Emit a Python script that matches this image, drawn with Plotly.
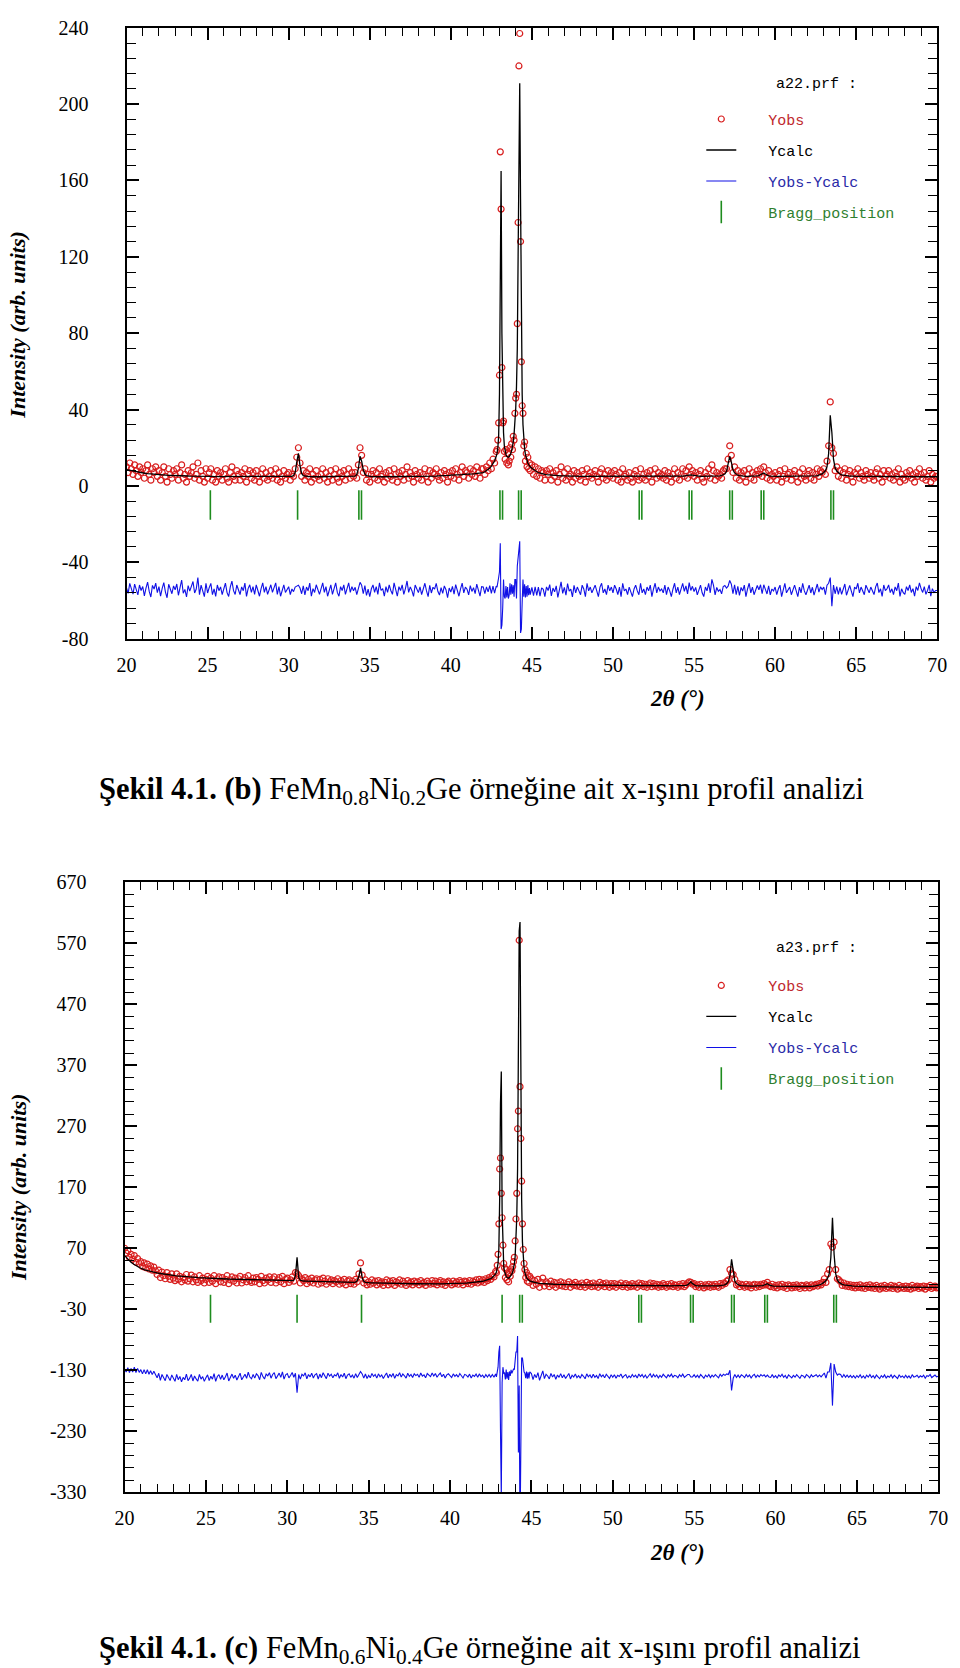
import numpy as np
import plotly.graph_objects as go

# ---------------- scan grid (2theta, degrees) ----------------
two_theta = np.round(np.concatenate([
    np.linspace(20.0, 42.8, 229),    # 0.1 deg steps
    np.linspace(42.85, 44.90, 42),   # 0.05 deg steps around main peaks
    np.linspace(45.0, 70.0, 251),    # 0.1 deg steps
]), 2)

# ---------------- (b) a22.prf : FeMn0.8Ni0.2Ge ----------------
yobs_a22 = [
    10, 7, 12, 9, 6, 11, 8, 5, 10, 7,        # 20
    9, 4, 8, 11, 6, 3, 9, 7, 10, 5,          # 21
    8, 3, 7, 10, 5, 2, 9, 6, 4, 8,           # 22
    6, 9, 3, 7, 11, 4, 6, 2, 8, 5,           # 23
    7, 10, 4, 6, 12, 3, 8, 5, 2, 9,          # 24
    4, 7, 9, 3, 6, 2, 8, 5, 7, 3,            # 25
    6, 9, 4, 2, 7, 10, 5, 3, 8, 6,           # 26
    3, 7, 5, 9, 2, 6, 8, 4, 7, 3,            # 27
    8, 5, 2, 6, 9, 4, 7, 3, 5, 8,            # 28
    4, 6, 9, 3, 7, 2, 5, 8, 4, 6,            # 29
    7, 3, 6, 5, 9, 15, 20, 12, 5, 8,         # 30
    3, 7, 5, 9, 2, 6, 4, 8, 5, 3,            # 31
    6, 9, 4, 7, 2, 5, 8, 3, 6, 9,            # 32
    4, 2, 7, 5, 8, 3, 6, 9, 4, 7,            # 33
    5, 7, 4, 11, 20, 16, 7, 9, 3, 6,         # 34
    2, 6, 8, 4, 7, 3, 9, 5, 6, 2,            # 35
    7, 4, 8, 5, 3, 9, 6, 2, 7, 5,            # 36
    8, 3, 6, 10, 4, 7, 5, 2, 8, 6,           # 37
    4, 7, 3, 6, 9, 5, 2, 8, 4, 7,            # 38
    6, 9, 5, 3, 7, 4, 8, 6, 2, 7,            # 39
    5, 8, 4, 9, 6, 3, 7, 10, 5, 8,           # 40
    7, 4, 9, 6, 8, 5, 10, 7, 4, 9,           # 41
    9, 6, 10, 8, 12, 9, 14, 12, 18,          # 42.0-42.8
    19, 24, 33, 58, 175, 145, 62, 33, 34, 18,      # 42.85-43.30
    14, 19, 12, 17, 11, 13, 20, 15, 22, 19,        # 43.35-43.80
    26, 24, 38, 46, 48, 85, 138, 220, 237, 128,    # 43.85-44.30
    65, 42, 38, 21, 23, 13, 17, 10, 15, 9,         # 44.35-44.80
    12, 8,                                         # 44.85-44.90
    11, 6, 10, 5, 9, 4, 8, 7, 3, 8,          # 45
    6, 9, 3, 7, 5, 8, 2, 6, 10, 4,           # 46
    7, 3, 9, 5, 6, 2, 8, 4, 7, 5,            # 47
    3, 8, 6, 2, 9, 5, 7, 4, 6, 8,            # 48
    5, 2, 7, 9, 4, 6, 3, 8, 5, 7,            # 49
    4, 8, 6, 3, 7, 2, 9, 5, 6, 3,            # 50
    7, 4, 2, 6, 8, 5, 3, 9, 4, 6,            # 51
    3, 7, 5, 8, 2, 6, 9, 4, 7, 5,            # 52
    6, 4, 8, 3, 7, 5, 2, 6, 9, 4,            # 53
    7, 3, 6, 9, 5, 8, 4, 10, 6, 8,           # 54
    5, 7, 3, 6, 8, 4, 2, 7, 5, 9,            # 55
    4, 11, 8, 3, 7, 5, 6, 4, 8, 9,           # 56
    9, 14, 21, 16, 7, 10, 4, 8, 3, 7,        # 57
    5, 8, 2, 6, 9, 4, 7, 3, 6, 8,            # 58
    6, 9, 5, 10, 7, 4, 8, 3, 6, 5,           # 59
    7, 3, 6, 8, 2, 5, 9, 4, 6, 7,            # 60
    3, 6, 8, 5, 2, 7, 4, 9, 5, 3,            # 61
    6, 8, 4, 7, 3, 6, 9, 5, 8, 7,            # 62
    9, 6, 13, 21, 44, 20, 17, 8, 10, 5,      # 63
    8, 4, 7, 9, 3, 6, 8, 5, 2, 7,            # 64
    6, 9, 4, 7, 5, 3, 8, 6, 4, 7,            # 65
    5, 3, 7, 9, 4, 6, 2, 8, 5, 6,            # 66
    8, 4, 6, 3, 7, 5, 9, 2, 6, 4,            # 67
    3, 7, 5, 8, 4, 6, 2, 7, 5, 9,            # 68
    6, 4, 7, 3, 5, 8, 2, 6, 4, 5,            # 69
    5,                                       # 70
]
ycalc_a22 = [
    8.5, 8.3, 8.1, 7.9, 7.7, 7.5, 7.3, 7.1, 6.9, 6.8,       # 20
    6.7, 6.6, 6.5, 6.4, 6.3, 6.2, 6.1, 6.0, 5.9, 5.9,       # 21
    5.8, 5.8, 5.7, 5.7, 5.6, 5.6, 5.5, 5.5, 5.5, 5.4,       # 22
    5.4, 5.4, 5.3, 5.3, 5.3, 5.2, 5.2, 5.2, 5.2, 5.1,       # 23
    5.1, 5.1, 5.1, 5.0, 5.0, 5.0, 5.0, 5.0, 5.0, 5.0,       # 24
    5.1, 5.3, 5.1, 5.0, 4.9, 4.9, 4.9, 4.9, 4.9, 4.9,       # 25
    4.9, 4.9, 4.9, 4.9, 4.9, 4.9, 4.9, 4.9, 4.9, 4.9,       # 26
    4.9, 4.9, 4.9, 4.9, 4.9, 4.8, 4.8, 4.8, 4.8, 4.8,       # 27
    4.8, 4.8, 4.8, 4.8, 4.8, 4.8, 4.8, 4.8, 4.8, 4.8,       # 28
    4.8, 4.8, 4.8, 4.8, 4.8, 4.8, 4.8, 4.8, 4.8, 4.8,       # 29
    4.8, 4.9, 5.0, 5.4, 7.0, 12.5, 17.0, 10.5, 6.5, 5.4,    # 30
    5.1, 5.0, 4.9, 4.9, 4.8, 4.8, 4.8, 4.8, 4.8, 4.8,       # 31
    4.8, 4.8, 4.8, 4.8, 4.8, 4.8, 4.8, 4.8, 4.8, 4.8,       # 32
    4.8, 4.8, 4.8, 4.8, 4.8, 4.8, 4.8, 4.8, 4.8, 4.8,       # 33
    4.9, 5.1, 6.0, 9.0, 15.5, 13.0, 8.5, 6.2, 5.4, 5.1,     # 34
    5.0, 4.9, 4.9, 4.8, 4.8, 4.8, 4.8, 4.8, 4.8, 4.8,       # 35
    4.8, 4.8, 4.8, 4.8, 4.8, 4.8, 4.8, 4.8, 4.8, 4.8,       # 36
    4.8, 4.8, 4.8, 4.8, 4.8, 4.9, 4.9, 4.9, 4.9, 4.9,       # 37
    4.9, 4.9, 5.0, 5.0, 5.0, 5.0, 5.0, 5.1, 5.1, 5.1,       # 38
    5.1, 5.1, 5.2, 5.2, 5.3, 5.3, 5.4, 5.4, 5.5, 5.5,       # 39
    5.6, 5.6, 5.7, 5.7, 5.8, 5.8, 5.9, 5.9, 6.0, 6.0,       # 40
    6.1, 6.1, 6.2, 6.3, 6.3, 6.4, 6.5, 6.6, 6.7, 6.8,       # 41
    7.0, 7.4, 7.9, 8.5, 9.3, 10.3, 11.5, 13.2, 15.5,        # 42.0-42.8
    17, 20, 26, 48, 150, 165, 80, 42, 28, 21,               # 42.85-43.30
    18, 16.5, 15.5, 15, 15, 15.3, 16, 17, 18.5, 20.5,       # 43.35-43.80
    23, 27, 32, 40, 52, 72, 120, 195, 211, 150,             # 43.85-44.30
    85, 48, 32, 24, 19.5, 16.5, 14.5, 13, 12, 11.2,         # 44.35-44.80
    10.5, 10.0,                                             # 44.85-44.90
    9.2, 8.5, 7.9, 7.4, 7.0, 6.7, 6.4, 6.2, 6.0, 5.9,       # 45
    5.8, 5.7, 5.6, 5.5, 5.5, 5.4, 5.4, 5.3, 5.3, 5.3,       # 46
    5.2, 5.2, 5.2, 5.1, 5.1, 5.1, 5.1, 5.0, 5.0, 5.0,       # 47
    5.0, 5.0, 5.0, 5.0, 5.0, 5.0, 5.0, 5.0, 5.0, 5.0,       # 48
    5.0, 5.0, 5.0, 5.0, 5.0, 5.0, 5.0, 5.0, 5.0, 5.0,       # 49
    5.0, 5.0, 5.0, 5.0, 5.0, 5.0, 5.0, 5.0, 5.0, 5.0,       # 50
    5.0, 5.0, 5.0, 5.0, 5.0, 5.0, 5.0, 5.0, 5.0, 5.0,       # 51
    5.0, 5.0, 5.0, 5.0, 5.0, 5.0, 5.0, 5.0, 5.0, 5.0,       # 52
    5.0, 5.0, 5.0, 5.0, 5.0, 5.0, 5.0, 5.0, 5.0, 5.0,       # 53
    5.0, 5.0, 5.0, 5.1, 5.2, 5.4, 5.6, 5.7, 5.8, 5.6,       # 54
    5.4, 5.2, 5.1, 5.0, 5.0, 5.0, 5.0, 5.0, 5.0, 5.0,       # 55
    5.0, 5.0, 5.1, 5.1, 5.2, 5.2, 5.3, 5.5, 5.7, 6.2,       # 56
    7.5, 11.5, 15.5, 12.5, 8.5, 6.8, 6.0, 5.6, 5.4, 5.2,    # 57
    5.1, 5.0, 5.0, 5.0, 5.0, 5.0, 5.0, 5.0, 5.1, 5.2,       # 58
    5.4, 5.8, 6.5, 6.8, 6.2, 5.6, 5.3, 5.1, 5.0, 5.0,       # 59
    5.0, 5.0, 5.0, 5.0, 5.0, 5.0, 5.0, 5.0, 5.0, 5.0,       # 60
    5.0, 5.0, 5.0, 5.0, 5.0, 5.0, 5.0, 5.0, 5.0, 5.0,       # 61
    5.0, 5.0, 5.1, 5.1, 5.2, 5.3, 5.4, 5.6, 5.9, 6.3,       # 62
    7.0, 8.0, 10.0, 17.0, 37.0, 28.0, 14.0, 9.5, 7.8, 6.8,  # 63
    6.2, 5.8, 5.6, 5.4, 5.3, 5.2, 5.1, 5.1, 5.0, 5.0,       # 64
    5.0, 5.0, 5.0, 5.0, 5.0, 5.0, 5.0, 5.0, 5.0, 5.0,       # 65
    4.9, 4.9, 4.9, 4.9, 4.9, 4.9, 4.9, 4.9, 4.9, 4.9,       # 66
    4.9, 4.9, 4.9, 4.9, 4.9, 4.9, 4.9, 4.9, 4.9, 4.9,       # 67
    4.8, 4.8, 4.8, 4.8, 4.8, 4.8, 4.8, 4.8, 4.8, 4.8,       # 68
    4.8, 4.8, 4.8, 4.8, 4.8, 4.8, 4.8, 4.8, 4.8, 4.8,       # 69
    4.8,                                                    # 70
]
bragg_a22 = [25.17, 30.55, 34.33, 34.49, 43.03, 43.19, 44.18, 44.34, 51.62, 51.78,
             54.70, 54.86, 57.20, 57.36, 59.14, 59.30, 63.44, 63.60]
diff_offset_a22 = -55
bragg_row_a22 = -10

# ---------------- (c) a23.prf : FeMn0.6Ni0.4Ge ----------------
yobs_a23 = [
    70, 62, 66, 55, 60, 52, 58, 47, 53, 45,  # 20
    48, 40, 46, 38, 44, 36, 41, 34, 39, 33,  # 21
    27, 34, 22, 31, 25, 20, 30, 24, 19, 28,  # 22
    21, 17, 28, 19, 24, 15, 22, 18, 27, 16,  # 23
    20, 26, 15, 23, 18, 14, 25, 17, 21, 13,  # 24
    19, 24, 14, 21, 16, 25, 12, 20, 23, 15,  # 25
    22, 14, 19, 25, 12, 18, 23, 16, 21, 13,  # 26
    20, 24, 13, 18, 22, 15, 25, 17, 14, 21,  # 27
    15, 22, 19, 12, 24, 17, 13, 21, 18, 23,  # 28
    14, 20, 23, 13, 18, 22, 15, 24, 12, 19,  # 29
    21, 14, 18, 23, 16, 30, 28, 25, 13, 20,  # 30
    17, 22, 12, 19, 15, 21, 13, 18, 20, 11,  # 31
    19, 13, 21, 16, 11, 20, 15, 18, 12, 17,  # 32
    15, 20, 11, 17, 13, 19, 10, 16, 18, 12,  # 33
    16, 11, 19, 15, 28, 46, 26, 13, 18, 10,  # 34
    15, 11, 18, 13, 16, 10, 17, 12, 15, 9,   # 35
    14, 18, 10, 16, 12, 17, 9, 15, 13, 18,   # 36
    11, 16, 13, 9, 17, 12, 15, 10, 16, 13,   # 37
    15, 10, 17, 12, 14, 9, 16, 13, 11, 17,   # 38
    12, 16, 10, 14, 17, 11, 15, 9, 14, 16,   # 39
    13, 10, 16, 12, 15, 11, 17, 14, 10, 16,  # 40
    15, 12, 17, 11, 16, 14, 18, 13, 19, 15,  # 41
    18, 14, 20, 17, 22, 19, 25, 23, 32,      # 42.0-42.8
    30, 42, 60, 110, 200, 218, 160, 120, 75, 45,     # 42.85-43.30
    38, 22, 35, 18, 28, 15, 30, 24, 36, 33,          # 43.35-43.80
    40, 48, 55, 82, 118, 160, 266, 295, 575, 335,    # 43.85-44.30
    250, 180, 110, 68, 45, 35, 22, 30, 16, 25,       # 44.35-44.80
    14, 24,                                          # 44.85-44.90
    20, 9, 17, 11, 19, 6, 14, 21, 8, 15,     # 45
    12, 7, 16, 10, 14, 6, 13, 9, 15, 8,      # 46
    13, 7, 11, 15, 6, 12, 9, 14, 8, 11,      # 47
    7, 13, 10, 6, 14, 9, 12, 7, 13, 8,       # 48
    11, 6, 14, 9, 12, 7, 13, 10, 6, 12,      # 49
    8, 12, 6, 11, 9, 13, 7, 10, 12, 6,       # 50
    10, 7, 12, 8, 11, 6, 13, 9, 12, 7,       # 51
    11, 6, 10, 13, 7, 12, 8, 11, 6, 10,      # 52
    7, 12, 9, 6, 11, 8, 12, 7, 10, 9,        # 53
    6, 11, 8, 12, 7, 10, 13, 15, 14, 11,     # 54
    12, 7, 10, 6, 11, 8, 5, 10, 7, 11,       # 55
    6, 10, 7, 11, 8, 6, 12, 9, 13, 12,       # 56
    16, 18, 35, 29, 27, 19, 10, 12, 7, 11,   # 57
    9, 6, 11, 7, 10, 5, 9, 11, 6, 10,        # 58
    7, 11, 9, 12, 10, 14, 9, 7, 11, 6,       # 59
    9, 5, 10, 7, 11, 6, 9, 4, 10, 8,         # 60
    5, 9, 6, 10, 7, 4, 9, 8, 5, 10,          # 61
    8, 5, 10, 7, 9, 11, 8, 12, 10, 14,       # 62
    20, 14, 28, 35, 77, 72, 80, 35, 20, 18,  # 63
    15, 9, 13, 8, 11, 7, 10, 6, 9, 5,        # 64
    9, 6, 10, 5, 8, 4, 9, 6, 10, 5,          # 65
    8, 4, 9, 6, 3, 8, 5, 9, 4, 7,            # 66
    5, 9, 4, 8, 6, 3, 9, 5, 7, 4,            # 67
    8, 4, 7, 3, 9, 5, 6, 8, 4, 7,            # 68
    5, 8, 3, 7, 6, 9, 4, 6, 8, 5,            # 69
    6,                                       # 70
]
ycalc_a23 = [
    58, 55, 52, 49, 47, 45, 43, 41, 40, 38.5,                         # 20
    37, 36, 35, 34, 33.2, 32.5, 31.8, 31.2, 30.6, 30,                 # 21
    29.5, 29, 28.5, 28, 27.6, 27.2, 26.8, 26.4, 26, 25.7,             # 22
    25.4, 25.1, 24.8, 24.5, 24.2, 24, 23.8, 23.6, 23.4, 23.2,         # 23
    23, 22.8, 22.6, 22.4, 22.2, 22, 21.8, 21.6, 21.4, 21.3,           # 24
    21.2, 21.6, 21.1, 20.9, 20.7, 20.5, 20.3, 20.2, 20.1, 20,         # 25
    19.9, 19.8, 19.7, 19.6, 19.5, 19.4, 19.3, 19.2, 19.1, 19,         # 26
    18.9, 18.8, 18.7, 18.6, 18.5, 18.4, 18.3, 18.2, 18.1, 18,         # 27
    17.9, 17.8, 17.7, 17.6, 17.5, 17.4, 17.3, 17.2, 17.1, 17,         # 28
    17, 16.9, 16.9, 16.8, 16.8, 16.7, 16.7, 16.6, 16.6, 16.5,         # 29
    16.5, 16.5, 16.6, 16.8, 17.5, 25, 55, 22, 17.5, 16.6,             # 30
    16.3, 16.2, 16.1, 16, 15.9, 15.8, 15.7, 15.6, 15.5, 15.4,         # 31
    15.3, 15.2, 15.1, 15, 14.9, 14.8, 14.7, 14.6, 14.5, 14.4,         # 32
    14.3, 14.2, 14.1, 14, 14, 13.9, 13.9, 13.8, 13.8, 13.7,           # 33
    13.8, 14, 14.6, 17, 24, 38, 22, 16, 14.2, 13.6,                   # 34
    13.4, 13.3, 13.2, 13.1, 13, 12.9, 12.9, 12.8, 12.8, 12.7,         # 35
    12.7, 12.6, 12.6, 12.5, 12.5, 12.4, 12.4, 12.3, 12.3, 12.2,       # 36
    12.2, 12.1, 12.1, 12, 12, 11.9, 11.9, 11.8, 11.8, 11.8,           # 37
    11.7, 11.7, 11.6, 11.6, 11.6, 11.5, 11.5, 11.5, 11.5, 11.5,       # 38
    11.5, 11.5, 11.5, 11.5, 11.6, 11.6, 11.6, 11.7, 11.7, 11.8,       # 39
    11.8, 11.9, 12, 12.1, 12.2, 12.3, 12.4, 12.5, 12.7, 12.8,         # 40
    13, 13.2, 13.4, 13.6, 13.8, 14, 14.3, 14.6, 15, 15.4,             # 41
    15.9, 16.5, 17.2, 18, 19, 20.3, 22, 24.5, 28,                     # 42.0-42.8
    31, 36, 45, 70, 150, 307, 360, 130, 60, 40,                       # 42.85-43.30
    32, 27, 24, 22, 21, 21, 22, 23.5, 25.5, 28,                       # 43.35-43.80
    31, 36, 44, 56, 78, 120, 200, 420, 590, 605,                      # 43.85-44.30
    330, 150, 80, 52, 38, 30, 25, 22, 20, 18.5,                       # 44.35-44.80
    17.5, 16.5,                                                       # 44.85-44.90
    15.5, 14.5, 13.8, 13.2, 12.8, 12.5, 12.2, 12, 11.8, 11.6,         # 45
    11.4, 11.3, 11.2, 11.1, 11, 10.9, 10.8, 10.7, 10.6, 10.5,         # 46
    10.5, 10.4, 10.4, 10.3, 10.3, 10.2, 10.2, 10.1, 10.1, 10,         # 47
    10, 10, 9.9, 9.9, 9.9, 9.8, 9.8, 9.8, 9.7, 9.7,                   # 48
    9.7, 9.7, 9.6, 9.6, 9.6, 9.5, 9.5, 9.5, 9.4, 9.4,                 # 49
    9.4, 9.4, 9.3, 9.3, 9.3, 9.2, 9.2, 9.2, 9.1, 9.1,                 # 50
    9.1, 9.1, 9, 9, 9, 8.9, 9.1, 9.3, 9.1, 8.9,                       # 51
    8.9, 8.9, 8.8, 8.8, 8.8, 8.7, 8.7, 8.7, 8.6, 8.6,                 # 52
    8.6, 8.6, 8.5, 8.5, 8.5, 8.4, 8.4, 8.4, 8.3, 8.3,                 # 53
    8.3, 8.3, 8.3, 8.4, 8.6, 9, 10, 12, 15, 12,                       # 54
    9.5, 8.6, 8.3, 8.2, 8.1, 8.1, 8.1, 8, 8, 8,                       # 55
    8, 8, 8, 8.1, 8.2, 8.4, 8.6, 9, 9.6, 10.5,                        # 56
    12, 15, 25, 52, 30, 16, 12, 10, 9, 8.6,                           # 57
    8.3, 8.1, 8, 7.9, 7.9, 7.8, 7.8, 7.8, 7.8, 7.9,                   # 58
    8, 8.2, 8.6, 9.5, 11, 12, 10, 8.8, 8.2, 7.9,                      # 59
    7.8, 7.7, 7.7, 7.6, 7.6, 7.6, 7.5, 7.5, 7.5, 7.5,                 # 60
    7.4, 7.4, 7.4, 7.4, 7.3, 7.3, 7.3, 7.3, 7.3, 7.2,                 # 61
    7.3, 7.4, 7.5, 7.7, 8, 8.4, 9, 9.8, 11, 12.5,                     # 62
    14.5, 17, 21, 28, 55, 120, 60, 28, 18, 14,                        # 63
    12, 10.8, 10, 9.4, 9, 8.7, 8.4, 8.2, 8, 7.8,                      # 64
    7.7, 7.6, 7.5, 7.4, 7.3, 7.2, 7.2, 7.1, 7.1, 7,                   # 65
    7, 6.9, 6.9, 6.8, 6.8, 6.8, 6.7, 6.7, 6.7, 6.6,                   # 66
    6.6, 6.6, 6.5, 6.5, 6.5, 6.5, 6.4, 6.4, 6.4, 6.4,                 # 67
    6.3, 6.3, 6.3, 6.3, 6.2, 6.2, 6.2, 6.2, 6.1, 6.1,                 # 68
    6.1, 6.1, 6.1, 6, 6, 6, 6, 6, 6, 6,                               # 69
    6,                                                                # 70
]
bragg_a23 = [25.28, 30.60, 34.56, 43.20, 44.28, 44.44, 51.60, 51.76, 54.78, 54.94,
             57.30, 57.46, 59.34, 59.50, 63.58, 63.74]
diff_offset_a23 = -140
bragg_row_a23 = -29

# ---------------- axis ticks ----------------
x_ticks = [20, 25, 30, 35, 40, 45, 50, 55, 60, 65, 70]
y_ticks_a22 = [240, 200, 160, 120, 80, 40, 0, -40, -80]
y_ticks_a23 = [670, 570, 470, 370, 270, 170, 70, -30, -130, -230, -330]

for name, arr in [("yobs_a22", yobs_a22), ("ycalc_a22", ycalc_a22),
                  ("yobs_a23", yobs_a23), ("ycalc_a23", ycalc_a23)]:
    if len(arr) != len(two_theta):
        raise ValueError(f"{name}: {len(arr)} values, grid has {len(two_theta)}")

# ---------------- styling ----------------
W, H = 960, 1668
RED = "#d81e1e"
BLUE = "#1010e6"
GREEN = "#1e8c1e"
SERIF = "Liberation Serif, Times New Roman, serif"
MONO = "Liberation Mono, Courier New, monospace"
PAD = "\u00a0\u00a0\u00a0"


def px_x(p):
    return p / W


def px_y(p):
    return 1 - p / H


fig = go.Figure()


def add_panel(obs, calc, bragg, offset, brow, xa, ya, leg, tick_size):
    obs = np.array(obs, dtype=float)
    calc = np.array(calc, dtype=float)
    diff = obs - calc + offset
    fig.add_trace(go.Scatter(
        x=two_theta, y=obs, mode="markers", xaxis=xa, yaxis=ya, legend=leg,
        legendgroup=leg + "obs",
        name=PAD + '<span style="color:#c0282d">Yobs</span>',
        marker=dict(symbol="circle-open", size=6, color=RED, line=dict(width=1.2, color=RED)),
    ))
    fig.add_trace(go.Scatter(
        x=two_theta, y=calc, mode="lines", xaxis=xa, yaxis=ya, legend=leg,
        legendgroup=leg + "calc",
        name=PAD + '<span style="color:#000000">Ycalc</span>',
        line=dict(color="black", width=1.3),
    ))
    fig.add_trace(go.Scatter(
        x=two_theta, y=diff, mode="lines", xaxis=xa, yaxis=ya, legend=leg,
        legendgroup=leg + "diff",
        name=PAD + '<span style="color:#2a2aa8">Yobs-Ycalc</span>',
        line=dict(color=BLUE, width=1.1),
    ))
    fig.add_trace(go.Scatter(
        x=bragg, y=[brow] * len(bragg), mode="markers", xaxis=xa, yaxis=ya, legend=leg,
        legendgroup=leg + "bragg",
        name=PAD + '<span style="color:#2f7f2f">Bragg_position</span>',
        marker=dict(symbol="line-ns", size=tick_size, color=GREEN, line=dict(width=1.6, color=GREEN)),
    ))


add_panel(yobs_a22, ycalc_a22, bragg_a22, diff_offset_a22, bragg_row_a22, "x", "y", "legend", 21)
add_panel(yobs_a23, ycalc_a23, bragg_a23, diff_offset_a23, bragg_row_a23, "x2", "y2", "legend2", 20)

axis_common = dict(
    showline=True, linewidth=2, linecolor="black", mirror="allticks",
    ticks="inside", ticklen=12, tickwidth=2, tickcolor="black",
    showgrid=False, zeroline=False,
    tickfont=dict(family=SERIF, size=20, color="black"),
)
xminor = dict(ticks="inside", dtick=1, ticklen=8, tickwidth=1, tickcolor="black")

legend_common = dict(
    xanchor="left", yanchor="top", bgcolor="rgba(0,0,0,0)", borderwidth=0,
    font=dict(family=MONO, size=15, color="black"),
    tracegroupgap=8.5, traceorder="grouped",
)

fig.update_layout(
    width=W, height=H, margin=dict(l=0, r=0, t=0, b=0),
    paper_bgcolor="white", plot_bgcolor="white", showlegend=True,
    font=dict(family=SERIF, color="black"),
    xaxis=dict(axis_common, domain=[px_x(119), px_x(947)], range=[20, 70],
               tickvals=x_ticks, ticktext=[str(v) for v in x_ticks],
               minor=xminor, anchor="y", ticklabelstandoff=7),
    yaxis=dict(axis_common, domain=[px_y(636), px_y(17)], range=[-80, 240],
               tickvals=y_ticks_a22, ticktext=[str(v) for v in y_ticks_a22],
               anchor="x", ticklabelstandoff=32,
               minor=dict(ticks="inside", dtick=8, tick0=0, ticklen=9, tickwidth=1, tickcolor="black")),
    xaxis2=dict(axis_common, domain=[px_x(117), px_x(948)], range=[20, 70],
                tickvals=x_ticks, ticktext=[str(v) for v in x_ticks],
                minor=xminor, anchor="y2", ticklabelstandoff=7),
    yaxis2=dict(axis_common, domain=[px_y(1501), px_y(883)], range=[-330, 670],
                tickvals=y_ticks_a23, ticktext=[str(v) for v in y_ticks_a23],
                anchor="x2", ticklabelstandoff=32,
                minor=dict(ticks="inside", dtick=20, tick0=-30, ticklen=9, tickwidth=1, tickcolor="black")),
    legend=dict(legend_common, x=px_x(706), y=px_y(93)),
    legend2=dict(legend_common, x=px_x(706), y=px_y(971)),
)

annotations = [
    dict(text="a22.prf :", x=px_x(780), y=px_y(74)),
    dict(text="a23.prf :", x=px_x(780), y=px_y(950)),
]
for a in annotations:
    fig.add_annotation(xref="paper", yref="paper", xanchor="left", yanchor="middle",
                       showarrow=False, font=dict(family=MONO, size=15, color="black"), **a)

for yc in (318, 1192):
    fig.add_annotation(text="<b><i>Intensity (arb. units)</i></b>", xref="paper", yref="paper",
                       x=px_x(8), y=px_y(yc), textangle=-90, showarrow=False,
                       xanchor="center", yanchor="middle",
                       font=dict(family=SERIF, size=22, color="black"))
for yc in (697, 1562):
    fig.add_annotation(text="<b><i>2θ (°)</i></b>", xref="paper", yref="paper",
                       x=px_x(682), y=px_y(yc), showarrow=False,
                       xanchor="center", yanchor="middle",
                       font=dict(family=SERIF, size=23, color="black"))

fig.add_annotation(
    text="<b>Şekil 4.1. (b)</b> FeMn<sub>0.8</sub>Ni<sub>0.2</sub>Ge örneğine ait x-ışını profil analizi",
    xref="paper", yref="paper", x=px_x(89), y=px_y(790), xanchor="left", yanchor="middle",
    showarrow=False, font=dict(family=SERIF, size=30.5, color="black"))
fig.add_annotation(
    text="<b>Şekil 4.1. (c)</b> FeMn<sub>0.6</sub>Ni<sub>0.4</sub>Ge örneğine ait x-ışını profil analizi",
    xref="paper", yref="paper", x=px_x(89), y=px_y(1661), xanchor="left", yanchor="middle",
    showarrow=False, font=dict(family=SERIF, size=30.5, color="black"))

fig.write_html("out.html", config={"displayModeBar": False},
               post_script="document.body.style.margin='0';")
